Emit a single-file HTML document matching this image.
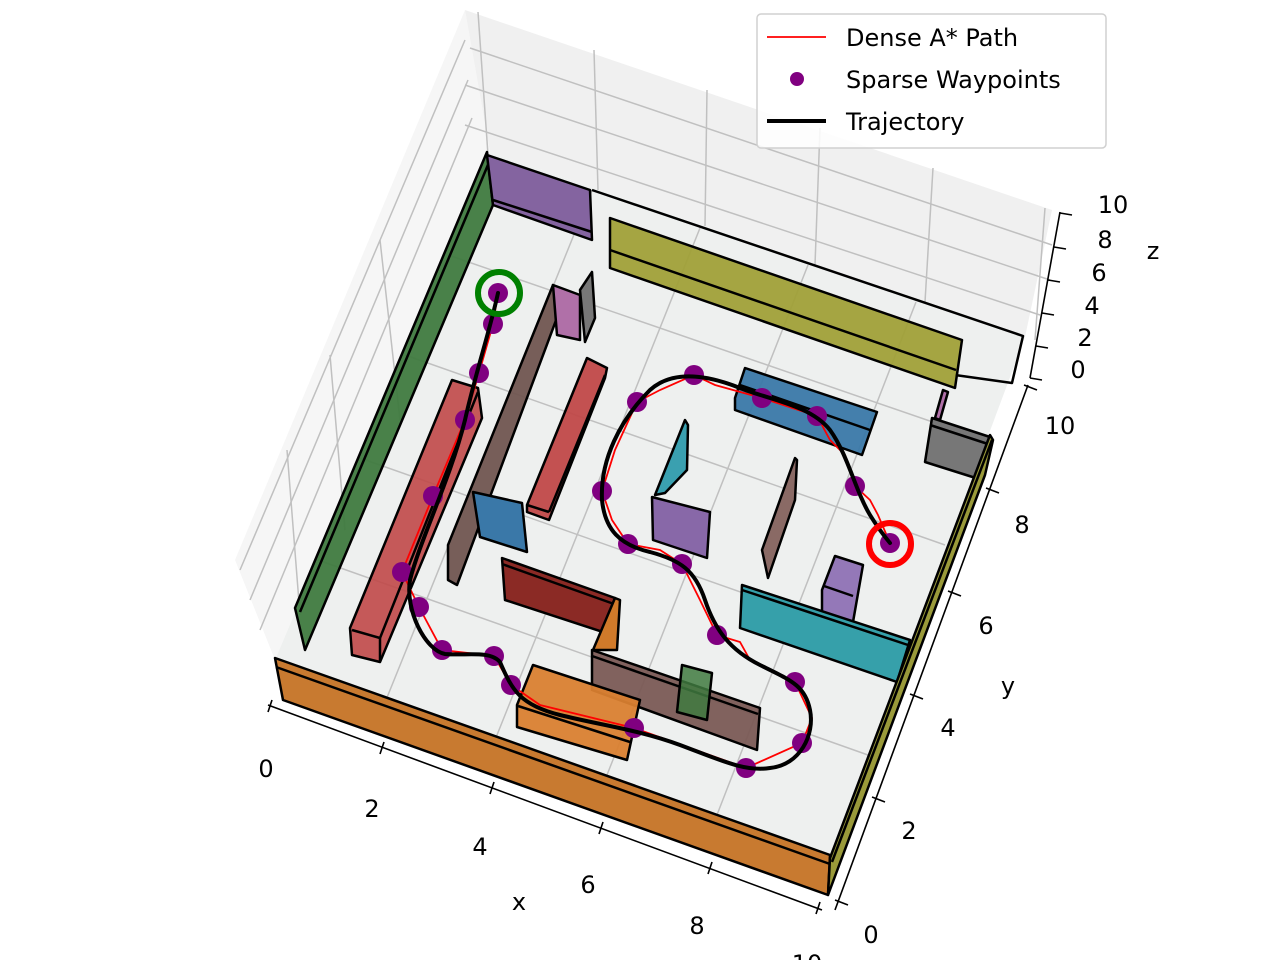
<!DOCTYPE html>
<html><head><meta charset="utf-8"><style>
html,body{margin:0;padding:0;background:#fff;}
svg{display:block;font-family:"DejaVu Sans","Liberation Sans",sans-serif;}
</style></head><body>
<svg width="1280" height="960" viewBox="0 0 1280 960" xmlns="http://www.w3.org/2000/svg">
<polygon points="465,10 490,152 275,660 235,560" fill="#f6f6f6"/>
<polygon points="465,10 1052,210 1025,337 490,152" fill="#f0f0f0"/>
<polygon points="275,660 490,152 1025,337 830,860" fill="#eef0ef"/>
<g stroke="#c0c0c0" stroke-width="1.5" fill="none">
<line x1="478" y1="12" x2="488" y2="155"/>
<line x1="594" y1="50" x2="598" y2="190"/>
<line x1="707" y1="90" x2="705" y2="226"/>
<line x1="820" y1="128" x2="815" y2="265"/>
<line x1="933" y1="168" x2="925" y2="302"/>
<line x1="1045" y1="208" x2="1035" y2="340"/>
<line x1="465" y1="85" x2="1050" y2="280"/>
<line x1="465" y1="125" x2="1040" y2="315"/>
<line x1="470" y1="48" x2="1052" y2="245"/>
<line x1="465" y1="40" x2="240" y2="570"/>
<line x1="468" y1="80" x2="250" y2="600"/>
<line x1="472" y1="118" x2="260" y2="630"/>
<line x1="380" y1="240" x2="400" y2="420"/>
<line x1="330" y1="355" x2="345" y2="530"/>
<line x1="287" y1="450" x2="300" y2="615"/>
<line x1="386" y1="700" x2="592" y2="190"/>
<line x1="495" y1="740" x2="700" y2="228"/>
<line x1="605" y1="780" x2="808" y2="265"/>
<line x1="715" y1="820" x2="916" y2="302"/>
<line x1="318" y1="560" x2="868" y2="755"/>
<line x1="360" y1="458" x2="905" y2="650"/>
<line x1="405" y1="355" x2="945" y2="545"/>
<line x1="448" y1="255" x2="985" y2="440"/>
</g>
<g stroke="#000" stroke-width="2.5" stroke-linejoin="round">
<polyline points="592,190 1023,336 1012,383 955,375" fill="none"/>
<polygon points="295,608 487,152 493,205 305,650" fill="#3f7a3f" fill-opacity="0.95"/>
<line x1="300" y1="612" x2="490" y2="160"/>
<polygon points="487,155 590,190 592,240 493,205" fill="#8464a0"/>
<line x1="493" y1="200" x2="592" y2="232"/>
<polygon points="610,218 962,340 955,388 610,268" fill="#a0a038" fill-opacity="0.95"/>
<line x1="610" y1="250" x2="956" y2="370"/>
<polygon points="935,418 943,390 948,392 940,420" fill="#b070a8"/>
<polygon points="925,462 932,418 990,437 982,480" fill="#777"/>
<line x1="930" y1="425" x2="988" y2="444"/>
<polygon points="735,398 745,368 877,412 862,455 735,410" fill="#3a78a8" fill-opacity="0.95"/>
<line x1="740" y1="385" x2="870" y2="430"/>
<polygon points="350,628 452,380 478,388 482,418 380,662 352,655" fill="#c04848" fill-opacity="0.9"/>
<line x1="352" y1="630" x2="380" y2="638"/>
<line x1="380" y1="638" x2="478" y2="392"/>
<line x1="380" y1="638" x2="380" y2="662"/>
<polygon points="448,545 553,285 560,290 558,315 457,585 448,580" fill="#705550" fill-opacity="0.95"/>
<polygon points="553,285 580,295 580,340 557,335" fill="#b070a8"/>
<polygon points="580,290 592,272 595,318 585,342" fill="#777"/>
<polygon points="527,505 587,358 607,368 605,378 549,520 527,512" fill="#c04848" fill-opacity="0.95"/>
<line x1="527" y1="505" x2="549" y2="512"/>
<line x1="549" y1="512" x2="605" y2="375"/>
<polygon points="473,492 522,503 527,552 480,537" fill="#3a78a8"/>
<polygon points="655,495 685,420 688,425 687,470 665,493" fill="#3aa0b0"/>
<polygon points="652,497 710,512 707,558 653,540" fill="#8868a8"/>
<polygon points="762,550 795,458 797,460 795,500 768,578" fill="#8a6a65"/>
<polygon points="822,590 835,556 863,565 853,622 822,612" fill="#9478b8"/>
<line x1="824" y1="586" x2="853" y2="596"/>
<polygon points="742,585 910,640 897,682 740,628" fill="#36a0aa"/>
<line x1="742" y1="590" x2="908" y2="645"/>
<polygon points="502,558 615,598 612,635 505,600" fill="#8b2a25"/>
<line x1="502" y1="564" x2="614" y2="604"/>
<polygon points="593,650 615,598 620,600 617,650" fill="#d07a2a"/>
<polygon points="592,650 760,708 757,750 592,690" fill="#7a5a55" fill-opacity="0.95"/>
<line x1="592" y1="656" x2="758" y2="714"/>
<polygon points="682,665 712,673 707,720 677,712" fill="#3f7a3f" fill-opacity="0.85"/>
<polygon points="517,705 533,665 640,700 627,760 517,727" fill="#d98030" fill-opacity="0.95"/>
<line x1="518" y1="706" x2="630" y2="742"/>
<polygon points="275,658 830,855 828,895 283,700" fill="#c87a30"/>
<line x1="276" y1="667" x2="830" y2="864"/>
<polygon points="830,858 990,435 993,440 985,475 828,895" fill="#9a9a3a"/>
<line x1="832" y1="862" x2="992" y2="440"/>
</g>
<polyline fill="none" stroke="#f00" stroke-width="1.8" points="498,293 493,324 479,373 465,420 433,496 402,572 419,607 442,650 494,656 511,685 540,705 634,728 690,748 746,768 802,743 812,718 795,682 750,660 740,642 717,635 700,600 682,564 660,550 628,544 612,520 602,491 615,450 637,402 660,390 694,375 715,385 762,398 817,416 830,440 845,455 855,486 870,500 878,515 890,543"/>
<g fill="#800080">
<circle cx="498" cy="293" r="10"/><circle cx="493" cy="324" r="10"/><circle cx="479" cy="373" r="10"/><circle cx="465" cy="420" r="10"/><circle cx="433" cy="496" r="10"/><circle cx="402" cy="572" r="10"/><circle cx="419" cy="607" r="10"/><circle cx="442" cy="650" r="10"/><circle cx="494" cy="656" r="10"/><circle cx="511" cy="685" r="10"/><circle cx="634" cy="728" r="10"/><circle cx="746" cy="768" r="10"/><circle cx="802" cy="743" r="10"/><circle cx="795" cy="682" r="10"/><circle cx="717" cy="635" r="10"/><circle cx="682" cy="564" r="10"/><circle cx="628" cy="544" r="10"/><circle cx="602" cy="491" r="10"/><circle cx="637" cy="402" r="10"/><circle cx="694" cy="375" r="10"/><circle cx="762" cy="398" r="10"/><circle cx="817" cy="416" r="10"/><circle cx="855" cy="486" r="10"/><circle cx="890" cy="543" r="10"/>
</g>
<path fill="none" stroke="#000" stroke-width="4" stroke-linecap="round" stroke-linejoin="round"
d="M498,293 C490,330 475,375 465,420 C450,480 420,540 410,580 C405,610 425,650 445,654 C465,656 490,650 500,662 C512,690 520,705 560,715 C600,725 640,730 680,745 C720,760 745,772 770,768 C800,765 815,735 810,710 C805,685 790,680 760,665 C730,650 715,630 705,600 C695,570 680,560 650,552 C620,545 605,530 602,500 C600,460 620,420 650,390 C670,372 700,372 740,388 C770,400 810,405 830,430 C848,455 855,490 870,515 C878,528 885,537 890,543"/>
<circle cx="499" cy="293" r="21" fill="none" stroke="#008000" stroke-width="6"/>
<circle cx="890" cy="544" r="21" fill="none" stroke="#f00" stroke-width="6"/>
<g stroke="#000" stroke-width="1.6">
<line x1="268" y1="705" x2="822" y2="910"/>
<line x1="272" y1="700" x2="268" y2="712"/><line x1="384" y1="742" x2="380" y2="754"/><line x1="494" y1="782" x2="490" y2="794"/><line x1="603" y1="822" x2="599" y2="834"/><line x1="712" y1="862" x2="708" y2="874"/><line x1="820" y1="902" x2="816" y2="914"/>
<line x1="835" y1="910" x2="1028" y2="385"/>
<line x1="835" y1="900" x2="848" y2="905"/><line x1="872" y1="797" x2="885" y2="802"/><line x1="910" y1="694" x2="923" y2="699"/><line x1="948" y1="591" x2="961" y2="596"/><line x1="986" y1="488" x2="999" y2="493"/><line x1="1024" y1="385" x2="1037" y2="390"/>
<line x1="1030" y1="378" x2="1060" y2="212"/>
<line x1="1030" y1="378" x2="1042" y2="380"/><line x1="1036" y1="346" x2="1048" y2="348"/><line x1="1042" y1="313" x2="1054" y2="315"/><line x1="1048" y1="280" x2="1060" y2="282"/><line x1="1054" y1="247" x2="1066" y2="249"/><line x1="1060" y1="213" x2="1072" y2="215"/>
</g>
<g font-size="24" fill="#000" text-anchor="middle">
<text x="266" y="777">0</text><text x="372" y="817">2</text><text x="480" y="855">4</text><text x="588" y="893">6</text><text x="697" y="934">8</text><text x="807" y="972">10</text>
<text x="519" y="910">x</text>
<text x="871" y="943">0</text><text x="909" y="839">2</text><text x="948" y="736">4</text><text x="986" y="634">6</text><text x="1022" y="533">8</text><text x="1060" y="434">10</text>
<text x="1008" y="694">y</text>
<text x="1078" y="378">0</text><text x="1085" y="346">2</text><text x="1092" y="314">4</text><text x="1099" y="281">6</text><text x="1105" y="248">8</text><text x="1113" y="213">10</text>
<text x="1153" y="259">z</text>
</g>
<rect x="757" y="14" width="349" height="134" rx="4" fill="#fff" fill-opacity="0.85" stroke="#d0d0d0" stroke-width="1.5"/>
<line x1="767" y1="37" x2="826" y2="37" stroke="#f00" stroke-width="1.8"/>
<circle cx="797" cy="79" r="7" fill="#800080"/>
<line x1="767" y1="121" x2="826" y2="121" stroke="#000" stroke-width="4"/>
<g font-size="24" fill="#000">
<text x="846" y="46">Dense A* Path</text>
<text x="846" y="88">Sparse Waypoints</text>
<text x="846" y="130">Trajectory</text>
</g>
</svg>
</body></html>
